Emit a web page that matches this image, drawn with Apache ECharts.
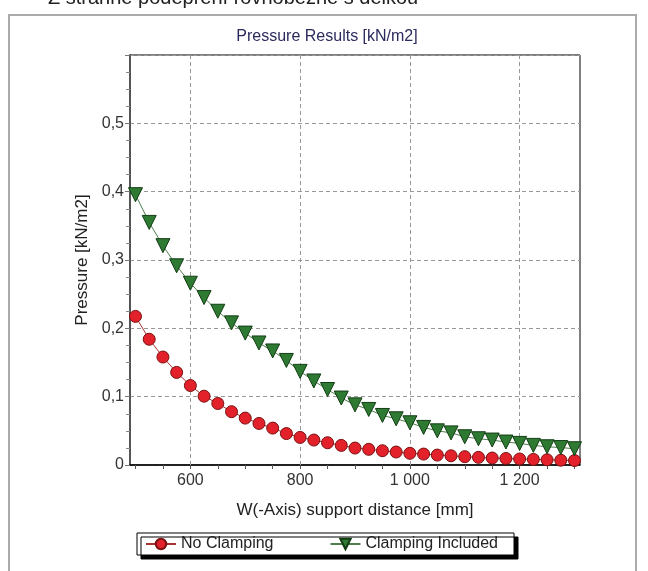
<!DOCTYPE html>
<html>
<head>
<meta charset="utf-8">
<script src="https://cdn.jsdelivr.net/npm/echarts@6/dist/echarts.min.js"></script>
<style>
html,body{margin:0;padding:0;background:#fff;}
#chart{width:648px;height:571px;}
</style>
</head>
<body>
<div id="chart"></div>
<script>
var distances = [500,525,550,575,600,625,650,675,700,725,750,775,800,825,850,875,900,925,950,975,1000,1025,1050,1075,1100,1125,1150,1175,1200,1225,1250,1275,1300];
var noClamping = [0.2175,0.184,0.158,0.1355,0.1163,0.1007,0.090,0.078,0.0686,0.0608,0.054,0.046,0.0404,0.0365,0.0326,0.0287,0.0248,0.0229,0.0209,0.019,0.0171,0.016,0.0145,0.0135,0.0122,0.0112,0.0102,0.0095,0.0088,0.0082,0.0076,0.007,0.0065];
var clampingIncluded = [0.3956,0.355,0.321,0.2915,0.266,0.245,0.225,0.208,0.193,0.1786,0.1669,0.153,0.137,0.123,0.1105,0.098,0.088,0.0813,0.0725,0.0676,0.0618,0.055,0.050,0.047,0.0413,0.0384,0.0365,0.0336,0.0316,0.0287,0.0267,0.0255,0.0238];
var xLabelValues = [600,800,1000,1200];
var xTickValues = [500,550,600,650,700,750,800,850,900,950,1000,1050,1100,1150,1200,1250,1300];
var seriesNames = ['No Clamping','Clamping Included'];

function fmtX(v){ return String(v).replace(/\B(?=(\d{3})+(?!\d))/g,' '); }
function fmtY(v){ if (v > 0.55) return ''; if (v === 0) return '0'; return v.toFixed(1).replace('.',','); }

var chart = echarts.init(document.getElementById('chart'));
var font = 'Liberation Sans, Arial, sans-serif';
chart.setOption({
  backgroundColor:'#fff',
  animation:false,
  graphic:[
    {type:'rect', shape:{x:9,y:15,width:627,height:570}, style:{fill:'none',stroke:'#aaaaaa',lineWidth:2}, silent:true},
    {type:'text', left:48, top:-12, style:{text:'Z stranně podepření rovnoběžně s délkou', font:'20px Liberation Sans, Arial, sans-serif', fill:'#222'}, silent:true}
  ],
  title:{text:'Pressure Results [kN/m2]', left:322, top:24, textAlign:'center',
    textStyle:{fontFamily:font, fontSize:16, fontWeight:'normal', color:'#2b2b5e'}},
  grid:{left:130, top:55, right:68, bottom:106, show:true, borderColor:'#000', borderWidth:1, backgroundColor:'#fff'},
  legend:{data:seriesNames, left:137, top:533, itemGap:56,
    padding:[3,16,3,8], backgroundColor:'#fff', borderColor:'#000', borderWidth:1,
    shadowColor:'#000', shadowOffsetX:4, shadowOffsetY:4, shadowBlur:0,
    itemWidth:30, itemHeight:13,
    textStyle:{fontFamily:font, fontSize:16, color:'#222'}},
  xAxis:{type:'value', min:490, max:1310,
    name:'W(-Axis) support distance [mm]', nameLocation:'middle', nameGap:37,
    nameTextStyle:{fontFamily:font, fontSize:17, color:'#222'},
    axisLine:{show:true, onZero:false, lineStyle:{color:'#000', width:1.5}},
    axisTick:{show:true, customValues:xTickValues, length:4, lineStyle:{color:'#555'}},
    axisLabel:{customValues:xLabelValues, formatter:fmtX, fontFamily:font, fontSize:16, color:'#333', margin:8},
    splitLine:{show:false}},
  yAxis:{type:'value', min:0, max:0.6, interval:0.1,
    name:'Pressure [kN/m2]', nameLocation:'middle', nameGap:38,
    nameTextStyle:{fontFamily:font, fontSize:17, color:'#222'},
    axisLine:{show:true, lineStyle:{color:'#555', width:2}},
    axisTick:{show:true, length:5, lineStyle:{color:'#777'}},
    minorTick:{show:true, splitNumber:4, length:4, lineStyle:{color:'#888'}},
    axisLabel:{formatter:fmtY, fontFamily:font, fontSize:16, color:'#333', margin:6},
    splitLine:{show:true, lineStyle:{color:'#999', type:[4,3], width:1}}},
  series:[
    {name:seriesNames[0], type:'line', data:distances.map(function(d,i){return [d,noClamping[i]];}),
      symbol:'circle', symbolSize:12, z:3,
      itemStyle:{color:'#e3212b', borderColor:'#7a1010', borderWidth:1},
      lineStyle:{color:'#a83232', width:1},
      markLine:{silent:true, symbol:'none', label:{show:false},
        lineStyle:{color:'#999', type:[4,3], width:1},
        data:xLabelValues.map(function(v){return {xAxis:v};}), z:1}},
    {name:seriesNames[1], type:'line', data:distances.map(function(d,i){return [d,clampingIncluded[i]];}),
      symbol:'triangle', symbolRotate:180, symbolSize:14, z:3,
      itemStyle:{color:'#2f7a32', borderColor:'#123d14', borderWidth:1},
      lineStyle:{color:'#4f7f4f', width:1}}
  ]
});
</script>
</body>
</html>
